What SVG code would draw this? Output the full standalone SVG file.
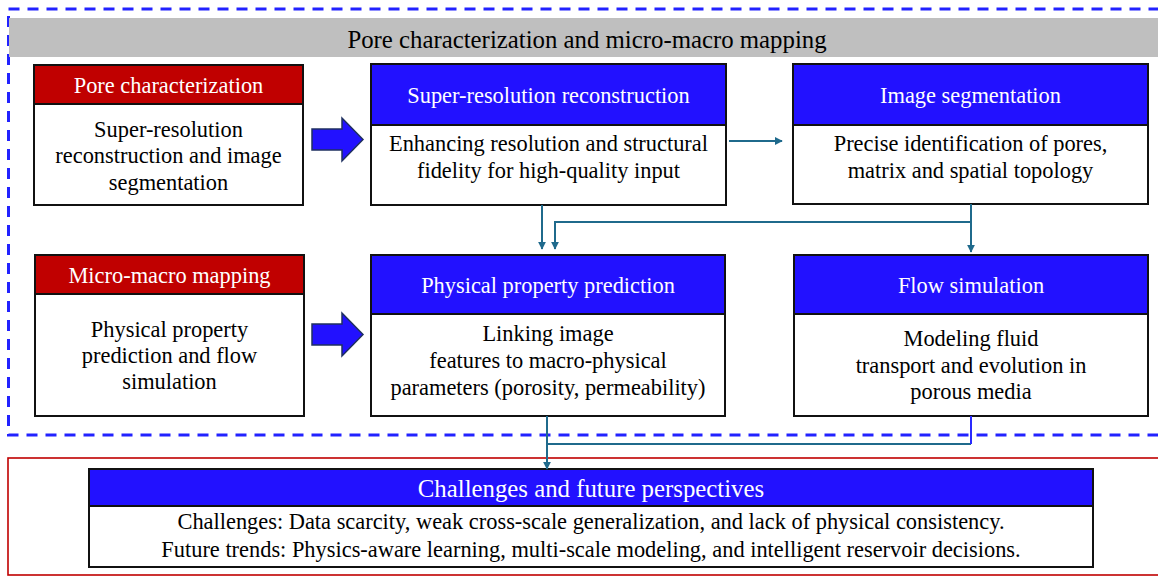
<svg xmlns="http://www.w3.org/2000/svg" width="1158" height="576" viewBox="0 0 1158 576">
  <style>
    text { font-family: "Liberation Serif", "Times New Roman", serif; text-anchor: middle; }
    .hd { fill: #ffffff; font-size: 22.4px; }
    .bd { fill: #000000; font-size: 22.4px; }
    .box { fill: #ffffff; stroke: #111111; stroke-width: 2; }
    .blue { fill: #2211ff; }
    .red { fill: #c00000; }
    .sep { stroke: #111111; stroke-width: 2; }
    .conn { fill: none; stroke: #1f6a8c; stroke-width: 2; }
    .big { fill: #2211ff; stroke: #1f3060; stroke-width: 1.5; stroke-linejoin: miter; }
  </style>
  <defs>
    <marker id="ah" viewBox="0 0 10 10" refX="9" refY="5" markerWidth="4" markerHeight="4" orient="auto" markerUnits="strokeWidth">
      <path d="M0,0 L10,5 L0,10 z" fill="#1f6a8c"/>
    </marker>
  </defs>

  <rect width="1158" height="576" fill="#ffffff"/>

  <!-- outer frames -->
  <g id="frames">
    <rect x="8.5" y="9" width="1160" height="426" fill="none" stroke="#2222ff" stroke-width="3" stroke-dasharray="11 8"/>
    <rect x="9" y="18" width="1149" height="39" fill="#bfbfbf"/>
    <text x="587" y="48" font-size="24.8" fill="#000">Pore characterization and micro-macro mapping</text>
    <rect x="8" y="458" width="1160" height="117" fill="none" stroke="#c00000" stroke-width="1.6"/>
  </g>

  <!-- left summary: pore characterization -->
  <g id="pore-characterization">
    <rect class="box" x="34" y="65" width="269" height="140"/>
    <rect class="red" x="35" y="66" width="267" height="38"/>
    <line class="sep" x1="34" y1="104" x2="303" y2="104"/>
    <text class="hd" x="168.5" y="93">Pore characterization</text>
    <text class="bd" x="168.5" y="137">Super-resolution</text>
    <text class="bd" x="168.5" y="163">reconstruction and image</text>
    <text class="bd" x="168.5" y="190">segmentation</text>
  </g>

  <!-- left summary: micro-macro mapping -->
  <g id="micro-macro-mapping">
    <rect class="box" x="35" y="255" width="269" height="161"/>
    <rect class="red" x="36" y="256" width="267" height="38"/>
    <line class="sep" x1="35" y1="294" x2="304" y2="294"/>
    <text class="hd" x="169.5" y="283">Micro-macro mapping</text>
    <text class="bd" x="169.5" y="337">Physical property</text>
    <text class="bd" x="169.5" y="363">prediction and flow</text>
    <text class="bd" x="169.5" y="389">simulation</text>
  </g>

  <!-- block arrows -->
  <g id="block-arrows">
    <path class="big" d="M312,129 L342,129 L342,118 L363,139.5 L342,161 L342,150 L312,150 z"/>
    <path class="big" d="M312,324 L342,324 L342,313 L363,334.5 L342,356 L342,345 L312,345 z"/>
  </g>

  <g id="super-resolution">
    <rect class="box" x="371" y="64" width="355" height="141"/>
    <rect class="blue" x="372" y="65" width="353" height="60"/>
    <line class="sep" x1="371" y1="125" x2="726" y2="125"/>
    <text class="hd" x="548.5" y="103">Super-resolution reconstruction</text>
    <text class="bd" x="548.5" y="151">Enhancing resolution and structural</text>
    <text class="bd" x="548.5" y="178">fidelity for high-quality input</text>
  </g>

  <g id="image-segmentation">
    <rect class="box" x="793" y="64" width="355" height="140"/>
    <rect class="blue" x="794" y="65" width="353" height="60"/>
    <line class="sep" x1="793" y1="125" x2="1148" y2="125"/>
    <text class="hd" x="970.5" y="103">Image segmentation</text>
    <text class="bd" x="970.5" y="151">Precise identification of pores,</text>
    <text class="bd" x="970.5" y="178">matrix and spatial topology</text>
  </g>

  <g id="physical-property">
    <rect class="box" x="371" y="255" width="354" height="161"/>
    <rect class="blue" x="372" y="256" width="352" height="58"/>
    <line class="sep" x1="371" y1="314" x2="725" y2="314"/>
    <text class="hd" x="548" y="293">Physical property prediction</text>
    <text class="bd" x="548" y="341">Linking image</text>
    <text class="bd" x="548" y="368">features to macro-physical</text>
    <text class="bd" x="548" y="395">parameters (porosity, permeability)</text>
  </g>

  <g id="flow-simulation">
    <rect class="box" x="794" y="255" width="354" height="161"/>
    <rect class="blue" x="795" y="256" width="352" height="58"/>
    <line class="sep" x1="794" y1="314" x2="1148" y2="314"/>
    <text class="hd" x="971" y="293">Flow simulation</text>
    <text class="bd" x="971" y="346">Modeling fluid</text>
    <text class="bd" x="971" y="373">transport and evolution in</text>
    <text class="bd" x="971" y="399">porous media</text>
  </g>

  <g id="challenges">
    <rect class="box" x="89" y="469" width="1004" height="98"/>
    <rect class="blue" x="90" y="470" width="1002" height="36"/>
    <line class="sep" x1="89" y1="506" x2="1093" y2="506"/>
    <text x="591" y="497" font-size="24.8" fill="#ffffff">Challenges and future perspectives</text>
    <text x="591" y="529" font-size="22.4" fill="#000">Challenges: Data scarcity, weak cross-scale generalization, and lack of physical consistency.</text>
    <text x="591" y="557" font-size="22.4" fill="#000">Future trends: Physics-aware learning, multi-scale modeling, and intelligent reservoir decisions.</text>
  </g>

  <!-- connectors -->
  <g id="connectors">
    <line class="conn" x1="729" y1="141" x2="782" y2="141" marker-end="url(#ah)"/>
    <line class="conn" x1="542" y1="205" x2="542" y2="249" marker-end="url(#ah)"/>
    <polyline class="conn" points="971,204 971,222 555,222 555,249" marker-end="url(#ah)"/>
    <line class="conn" x1="971" y1="222" x2="971" y2="252" marker-end="url(#ah)"/>
    <polyline class="conn" points="971,444 547,444"/>
    <line x1="971" y1="416" x2="971" y2="444" stroke="#2a2aff" stroke-width="2"/>
    <line class="conn" x1="547" y1="416" x2="547" y2="469" marker-end="url(#ah)"/>
  </g>
</svg>
